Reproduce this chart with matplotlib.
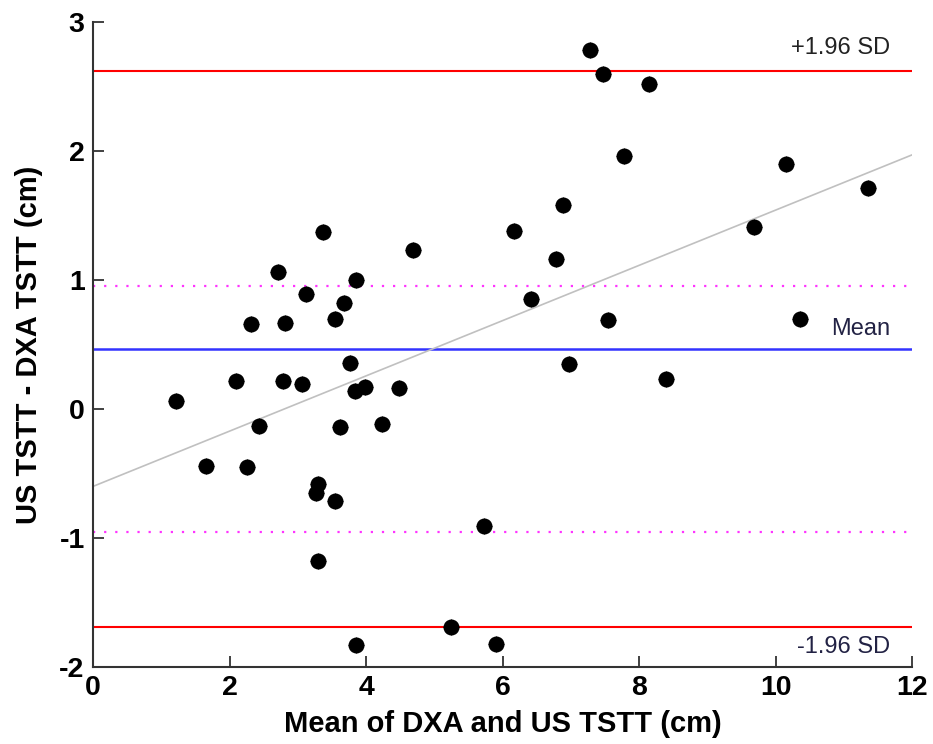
import numpy as np
import matplotlib
matplotlib.use("Agg")
import matplotlib.pyplot as plt

plt.rcParams['font.family'] = ['Liberation Sans', 'DejaVu Sans']
plt.rcParams['axes.unicode_minus'] = False

# Bland-Altman data: mean of the two methods (x) and difference (y), cm
mean_vals = [1.22, 1.65, 2.09, 2.26, 2.31, 2.43, 2.71, 2.79, 2.82, 3.06,
             3.12, 3.26, 3.29, 3.29, 3.37, 3.54, 3.55, 3.62, 3.68, 3.77,
             3.84, 3.86, 3.86, 3.98, 4.23, 4.48, 4.69, 5.25, 5.73, 5.90,
             6.17, 6.42, 6.78, 6.89, 6.98, 7.28, 7.47, 7.54, 7.78, 8.14,
             8.40, 9.69, 10.16, 10.36, 11.36]
diff_vals = [0.06, -0.44, 0.22, -0.45, 0.66, -0.13, 1.06, 0.22, 0.67, 0.19,
             0.89, -0.65, -0.58, -1.18, 1.37, 0.70, -0.71, -0.14, 0.82, 0.36,
             0.14, 1.00, -1.83, 0.17, -0.12, 0.16, 1.23, -1.69, -0.91, -1.82,
             1.38, 0.85, 1.16, 1.58, 0.35, 2.78, 2.60, 0.69, 1.96, 2.52,
             0.23, 1.41, 1.90, 0.70, 1.71]

mean_diff = 0.465
upper_loa = 2.62
lower_loa = -1.69
inner_band = [0.955, -0.955]
fit_ends_x = [0, 12]
fit_ends_y = [-0.60, 1.97]

fig = plt.figure(figsize=(9.33, 7.44), dpi=100)
ax = fig.add_axes([0.0997, 0.1035, 0.8778, 0.8669])

ax.axhline(upper_loa, color='#ff0000', lw=1.5, zorder=1)
ax.axhline(lower_loa, color='#ff0000', lw=1.5, zorder=1)
ax.axhline(mean_diff, color='#3333ff', lw=1.8, zorder=1)
for v in inner_band:
    ax.axhline(v, color='#ff33ff', lw=1.6, ls=(0, (1, 4)), zorder=1)
ax.plot(fit_ends_x, fit_ends_y, color='#c0c0c0', lw=1.2, zorder=1)

ax.plot(mean_vals, diff_vals, 'o', color='black', ms=10.5, zorder=3)
ax.plot(mean_vals, diff_vals, '+', color='black', ms=12, mew=0.8, zorder=3)

ax.text(11.68, 2.80, '+1.96 SD', ha='right', va='center', fontsize=17, color='#222222')
ax.text(11.68, 0.62, 'Mean', ha='right', va='center', fontsize=17, color='#222244')
ax.text(11.68, -1.845, '-1.96 SD', ha='right', va='center', fontsize=17, color='#222244')

ax.set_xlim(0, 12)
ax.set_ylim(-2, 3)
ax.set_xticks(range(0, 13, 2))
ax.set_yticks(range(-2, 4))
ax.spines['top'].set_visible(False)
ax.spines['right'].set_visible(False)
for s in ['left', 'bottom']:
    ax.spines[s].set_linewidth(1.5)
    ax.spines[s].set_color('#333333')
ax.tick_params(direction='in', length=8, width=1.3, color='#333333',
               labelsize=20.5, pad=6)
for lab in ax.get_xticklabels() + ax.get_yticklabels():
    lab.set_fontweight('bold')

ax.set_xlabel('Mean of DXA and US TSTT (cm)', fontsize=21, fontweight='bold', labelpad=6)
ax.set_ylabel('US TSTT - DXA TSTT (cm)', fontsize=21, fontweight='bold', labelpad=12)

fig.savefig('out.png', dpi=100)
